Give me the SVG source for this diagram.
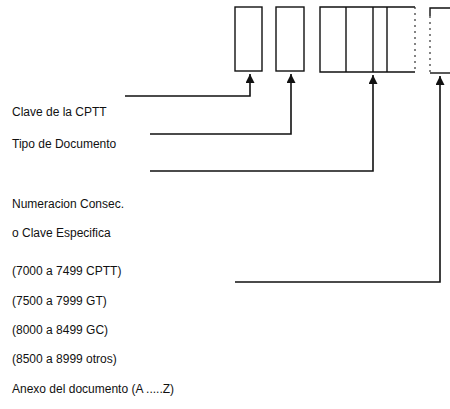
<svg xmlns="http://www.w3.org/2000/svg" width="450" height="409" viewBox="0 0 450 409">
<defs>
<style>
.box{fill:none;stroke:#111;stroke-width:1.4}
.faint{fill:none;stroke:#333;stroke-width:1.2;stroke-dasharray:2 4}
.conn{fill:none;stroke:#111;stroke-width:1.6}
.lbl{font-family:"Liberation Sans",Arial,sans-serif;font-size:12px;fill:#111}
</style>
<marker id="ah" viewBox="0 0 10 10" refX="10" refY="5" markerWidth="10" markerHeight="9" markerUnits="userSpaceOnUse" orient="auto">
<path d="M0,0 L10,5 L0,10 z" fill="#111"/>
</marker>
</defs>
<rect width="450" height="409" fill="#fff"/>
<g id="field1"><rect class="box" x="235" y="7" width="27" height="64"/></g>
<g id="field2"><rect class="box" x="276" y="7" width="28" height="64"/></g>
<g id="field3">
<path class="box" d="M415,7 H320 V72 H415"/>
<line class="faint" x1="415" y1="7" x2="415" y2="72"/>
<line class="box" x1="346" y1="7" x2="346" y2="72"/>
<line class="box" x1="373" y1="7" x2="373" y2="72"/>
<line class="box" x1="387" y1="7" x2="387" y2="72"/>
</g>
<g id="field4">
<path class="box" d="M450,8 H430 V16"/>
<line class="faint" x1="430" y1="16" x2="430" y2="73"/>
<line class="box" x1="430" y1="73" x2="450" y2="73"/>
</g>
<g id="connectors">
<path class="conn" d="M125,96 H250 V74" marker-end="url(#ah)"/>
<path class="conn" d="M150,134 H291 V74" marker-end="url(#ah)"/>
<path class="conn" d="M150,171 H373 V75" marker-end="url(#ah)"/>
<path class="conn" d="M235,282 H440 V76" marker-end="url(#ah)"/>
</g>
<g id="labels">
<text class="lbl" x="12" y="116">Clave de la CPTT</text>
<text class="lbl" x="12" y="148">Tipo de Documento</text>
<text class="lbl" x="12" y="208">Numeracion Consec.</text>
<text class="lbl" x="12" y="237">o Clave Especifica</text>
<text class="lbl" x="12" y="275">(7000 a 7499 CPTT)</text>
<text class="lbl" x="12" y="305">(7500 a 7999 GT)</text>
<text class="lbl" x="12" y="334">(8000 a 8499 GC)</text>
<text class="lbl" x="12" y="363">(8500 a 8999 otros)</text>
<text class="lbl" x="12" y="393">Anexo del documento (A .....Z)</text>
</g>
</svg>
